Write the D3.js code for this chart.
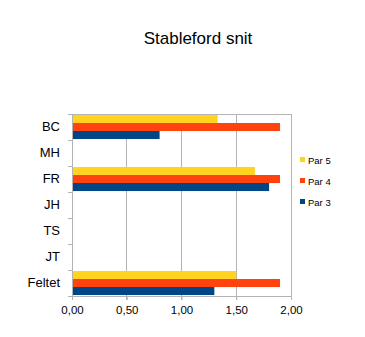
<!DOCTYPE html>
<html><head><meta charset="utf-8">
<script src="https://cdn.jsdelivr.net/npm/d3@7"></script>
<style>body{margin:0;background:#fff}svg{display:block;font-family:"Liberation Sans",Arial,sans-serif}</style>
</head><body><svg id="c" width="365" height="337"></svg>
<script>
const categories = ["BC","MH","FR","JH","TS","JT","Feltet"];
const seriesNames = ["Par 5","Par 4","Par 3"];
const par5 = [1.33, null, 1.67, null, null, null, 1.50];
const par4 = [1.90, null, 1.90, null, null, null, 1.90];
const par3 = [0.80, null, 1.80, null, null, null, 1.30];
const xTicks = [0, 0.5, 1, 1.5, 2];
const colors = ["#FFD320","#FF420E","#004586"];
const series = [par5, par4, par3];

const svg = d3.select("#c");
const m = {l:72, r:291, t:114, b:296};
const x = d3.scaleLinear().domain([0,2]).range([m.l, m.r]);
const y = d3.scaleBand().domain(categories).range([m.t, m.b]).paddingInner(0).paddingOuter(0);
const inner = d3.scaleBand().domain(seriesNames).range([0, y.bandwidth()]).paddingOuter(0.12).paddingInner(0);

svg.append("text").attr("x",198).attr("y",44).attr("text-anchor","middle")
  .attr("font-size",17).attr("fill","#000").text("Stableford snit");

// grid
svg.append("g").selectAll("line").data(xTicks).join("line")
  .attr("x1",d=>x(d)).attr("x2",d=>x(d)).attr("y1",m.t).attr("y2",m.b+4)
  .attr("stroke","#b3b3b3").attr("stroke-width",1).attr("shape-rendering","crispEdges");
svg.append("line").attr("x1",m.l).attr("x2",m.r).attr("y1",m.t).attr("y2",m.t)
  .attr("stroke","#b3b3b3").attr("shape-rendering","crispEdges");

// bars
const g = svg.append("g");
categories.forEach((c,i)=>{
  series.forEach((s,j)=>{
    if (s[i]==null) return;
    g.append("rect").attr("x",x(0)).attr("y",y(c)+inner(seriesNames[j]))
     .attr("width",x(s[i])-x(0)).attr("height",inner.bandwidth())
     .attr("fill",colors[j]);
  });
});

// x axis
const xa = svg.append("g").attr("transform",`translate(0,${m.b})`)
  .call(d3.axisBottom(x).tickValues(xTicks).tickSize(4).tickPadding(6)
    .tickFormat(d=>d3.format(".2f")(d).replace(".",",")));
xa.select(".domain").attr("stroke","#b3b3b3");
xa.selectAll(".tick line").attr("stroke","#b3b3b3");
xa.selectAll("text").attr("font-size",11.5).attr("fill","#000").attr("font-family","Liberation Sans, Arial, sans-serif");

// y axis
const ya = svg.append("g").attr("transform",`translate(${m.l},0)`)
  .call(d3.axisLeft(y).tickSize(0).tickPadding(12));
ya.select(".domain").attr("stroke","#b3b3b3");
ya.selectAll("text").attr("font-size",13).attr("fill","#000").attr("font-family","Liberation Sans, Arial, sans-serif");
svg.append("g").selectAll("line").data(d3.range(categories.length+1)).join("line")
  .attr("x1",m.l-4).attr("x2",m.l).attr("y1",d=>m.t+d*y.step()).attr("y2",d=>m.t+d*y.step())
  .attr("stroke","#b3b3b3").attr("shape-rendering","crispEdges");

// legend
const lg = svg.append("g");
seriesNames.forEach((n,j)=>{
  const ly = 160 + j*21;
  lg.append("rect").attr("x",300).attr("y",ly-3).attr("width",5).attr("height",5).attr("fill",colors[j]);
  lg.append("text").attr("x",308).attr("y",ly+3.5).attr("font-size",9.5).attr("fill","#000").text(n);
});
</script></body></html>
